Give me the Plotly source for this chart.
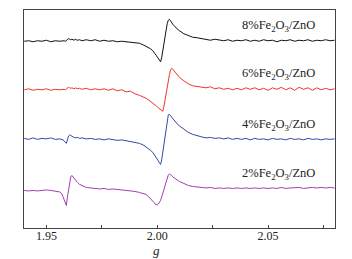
import plotly.graph_objects as go

g_values = [
    1.940, 1.942, 1.944, 1.946, 1.948, 1.950, 1.952, 1.954, 1.956,
    1.957, 1.9575, 1.958, 1.9585, 1.959, 1.9595, 1.960, 1.9605, 1.961, 1.9615,
    1.962, 1.9625, 1.963, 1.964, 1.965, 1.966,
    1.968, 1.970, 1.972, 1.974, 1.976, 1.978, 1.980, 1.982, 1.984, 1.986,
    1.988, 1.990, 1.992, 1.994, 1.995, 1.996, 1.997, 1.998, 1.9985, 1.999,
    1.9995, 2.000, 2.0005, 2.001, 2.0015, 2.002, 2.0025, 2.003, 2.0035, 2.004,
    2.0045, 2.005, 2.0055, 2.006, 2.0065, 2.007, 2.008, 2.009, 2.010,
    2.012, 2.014, 2.016, 2.018, 2.020, 2.022, 2.024, 2.026, 2.028, 2.030,
    2.032, 2.034, 2.036, 2.038, 2.040, 2.042, 2.044, 2.046, 2.048, 2.050,
    2.052, 2.054, 2.056, 2.058, 2.060, 2.062, 2.064, 2.066, 2.068, 2.070,
    2.072, 2.074, 2.076, 2.078, 2.080,
]

fe8 = [
    186.5, 187, 186, 187, 186.5, 187.5, 186, 187, 186.5,
    187, 186.5, 187, 186.5, 187, 188.5, 189, 188.5, 188, 188.5,
    188, 187.5, 188.5, 187.5, 188, 187,
    188, 187, 188, 186.5, 187.5, 186.5, 187, 186, 186.5, 186,
    185.5, 185, 184.5, 182.5, 181.5, 180.5, 179, 177, 176, 174,
    172.5, 170.5, 168.5, 167, 166, 170, 177, 185, 192, 199,
    204, 207.5, 208.5, 207, 205, 203.5, 201, 199, 197,
    194, 192, 190.5, 190, 189, 188.5, 187.5, 188.5, 187.5, 187,
    188, 186.5, 187.5, 187, 188, 186.5, 187.5, 186.5, 188, 187,
    187.5, 186, 187.5, 187, 188, 186.5, 187.5, 187, 188, 186.5,
    187.5, 187, 188, 187, 187.5,
]

fe6 = [
    138, 139, 137.5, 138.5, 138, 139, 137.5, 138.5, 138,
    138.5, 138, 138.5, 138, 138.5, 140, 140.5, 140, 139.5, 140,
    139.5, 139, 140, 139, 139.5, 138.5,
    139.5, 138, 139, 138, 139, 137.5, 139, 137, 138, 136,
    136.5, 134, 132.5, 131, 129.5, 128, 126.5, 125, 124, 123,
    122, 121, 120, 119, 118, 117, 116.5, 121, 128, 135,
    142, 148, 153, 157.5, 159.5, 158.5, 155.5, 153, 150.5,
    147, 144, 142, 141.5, 140.5, 140, 141, 139, 140, 138.5,
    139.5, 138, 139.5, 138, 140, 138.5, 140, 138, 139.5, 137.5,
    140, 138.5, 140.5, 138, 140, 137.5, 140.5, 138.5, 140, 137.5,
    140, 138, 139.5, 138, 139,
]

fe4 = [
    89.5, 88.5, 90, 88.5, 89.5, 89, 90, 88.5, 89,
    88.5, 88, 87, 85.5, 84.5, 88, 92, 93, 92, 91,
    91, 90.5, 90, 90.5, 89.5, 90,
    89, 89.5, 88.5, 89, 88, 89, 88, 87.5, 88, 87,
    86.5, 85.5, 84.5, 82.5, 81, 79.5, 77.5, 75.5, 74, 72.5,
    71, 69, 67, 65, 63.5, 68, 75, 84, 93, 101,
    108, 113, 113.5, 112, 110.5, 109, 106.5, 104, 102,
    98.5, 95.5, 93.5, 92, 91, 90, 90.5, 89.5, 90, 89,
    90, 88.5, 89.5, 88.5, 89.5, 88, 89.5, 88.5, 89, 88,
    89.5, 88.5, 89, 88, 89.5, 88.5, 89, 88, 89.5, 88.5,
    89, 88, 89, 88.5, 89,
]

fe2 = [
    37.5, 37, 37.5, 37, 37.5, 38, 37.5, 37, 36,
    34, 31, 27.5, 24, 22.5, 31, 39, 47, 51, 52.5,
    51, 49.5, 48, 45.5, 43.5, 42.5,
    40.5, 40, 39.5, 39, 39.5, 38.5, 39, 38.5, 38, 38,
    37, 36.5, 35.5, 34.5, 33.5, 31.5, 29.5, 27, 25.5, 24,
    23, 23, 24, 25.5, 27.5, 31, 35, 39, 43, 47,
    50.5, 53, 54, 53.5, 52.5, 51, 49.5, 48, 46.5,
    44.5, 42.5, 41.5, 41, 40.5, 40, 40.5, 39.5, 40, 39.5,
    40, 39.5, 40, 39.5, 40, 39.5, 40, 39.5, 40, 39.5,
    40, 39.5, 40.5, 39.5, 40, 40, 40.5, 39.5, 40, 40.5,
    40, 40.5, 40, 40.5, 40,
]

labels = ["8%Fe<sub>2</sub>O<sub>3</sub>/ZnO", "6%Fe<sub>2</sub>O<sub>3</sub>/ZnO",
          "4%Fe<sub>2</sub>O<sub>3</sub>/ZnO", "2%Fe<sub>2</sub>O<sub>3</sub>/ZnO"]
label_y = [202, 154, 102.5, 53.5]
label_g = 2.0723
x_title = "<i>g</i>"

series = [fe8, fe6, fe4, fe2]
colors = ["#111111", "#f4332b", "#3548a8", "#a23fae"]

SERIF = "Liberation Serif"

fig = go.Figure()
for vals, col in zip(series, colors):
    fig.add_trace(go.Scatter(x=g_values, y=vals, mode="lines",
                             line=dict(color=col, width=1), showlegend=False,
                             hoverinfo="skip"))

for lab, ly in zip(labels, label_y):
    fig.add_annotation(x=label_g, y=ly, text=lab, showarrow=False,
                       xanchor="right", yanchor="middle",
                       font=dict(family=SERIF, size=12.5, color="#222"))

fig.add_annotation(x=0.4246, xref="paper", y=-0.103, yref="paper", text=x_title,
                   showarrow=False, xanchor="center", yanchor="middle", borderpad=0,
                   font=dict(family=SERIF, size=13, color="#222"))

fig.update_layout(
    width=352, height=259,
    margin=dict(l=24, r=17, t=10, b=31),
    paper_bgcolor="white", plot_bgcolor="white",
    font=dict(family=SERIF, size=12, color="#222"),
)
fig.update_xaxes(
    range=[1.9399, 2.0802], showgrid=False, zeroline=False,
    showline=True, linecolor="#444", linewidth=1, mirror=True,
    ticks="inside", ticklen=3, tickcolor="#444", tickwidth=1,
    tick0=1.95, dtick=0.05, tickformat=".2f", ticklabelstandoff=-3,
    tickfont=dict(family=SERIF, size=12, color="#222"),
    minor=dict(ticks="inside", ticklen=3, tickcolor="#444", dtick=0.025, tick0=1.95),
)
fig.update_yaxes(
    range=[0, 217.7], showgrid=False, zeroline=False,
    showline=True, linecolor="#444", linewidth=1, mirror=True,
    showticklabels=False, ticks="",
)

fig.write_html("out.html", config={"displayModeBar": False},
               post_script="document.body.style.margin='0';document.body.style.overflow='hidden';")
